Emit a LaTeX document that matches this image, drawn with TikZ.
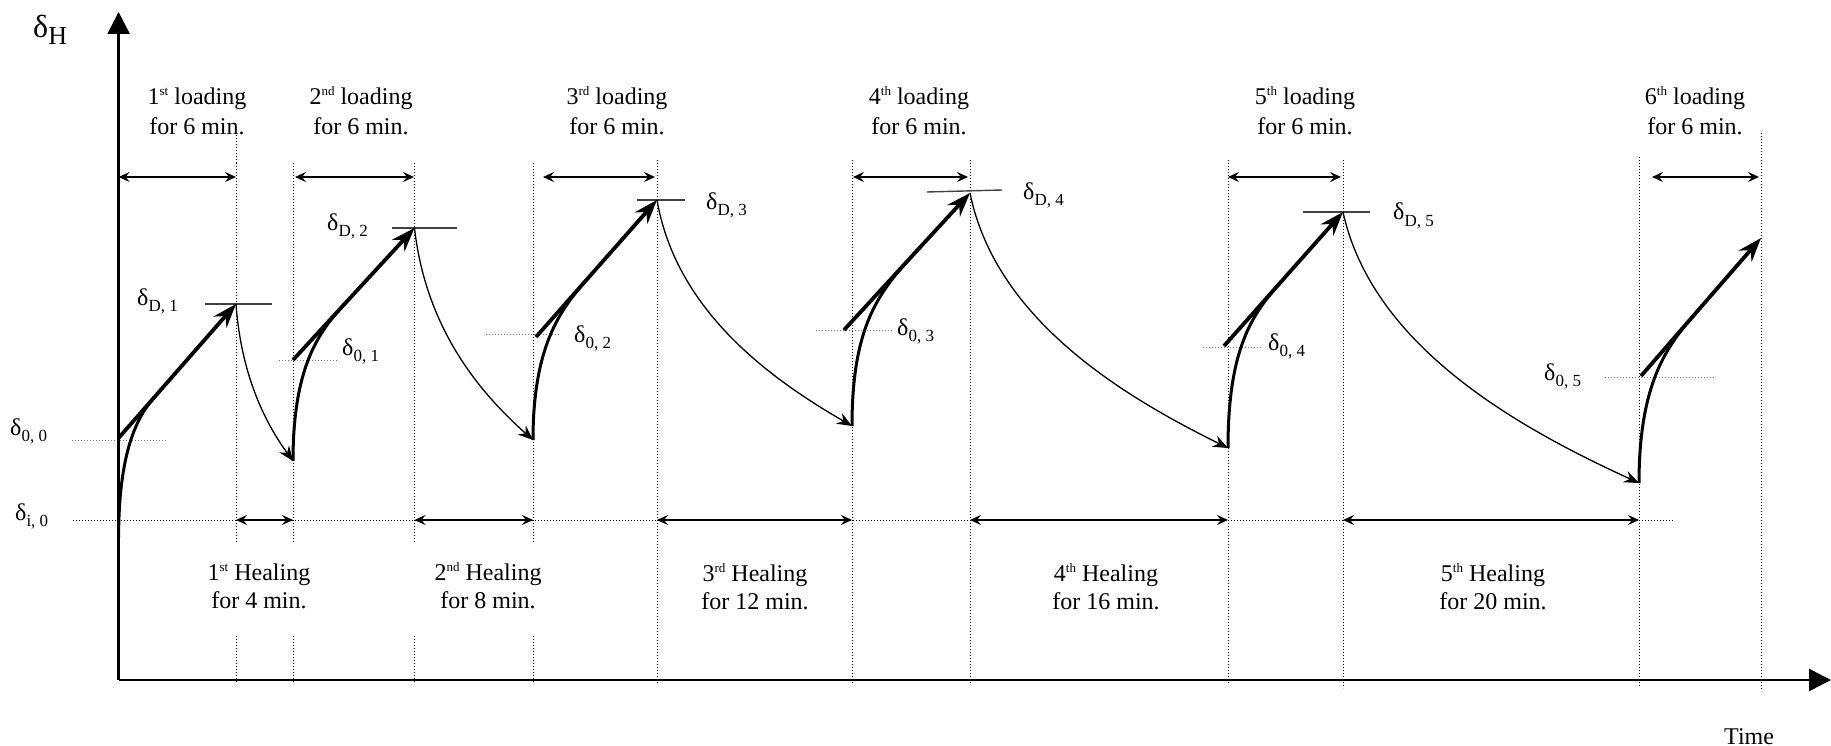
\documentclass[tikz,border=0pt]{standalone}
\usepackage{fontspec}
\setmainfont{Liberation Serif}
\usetikzlibrary{arrows.meta,calc}
\newcommand\sups[1]{\raisebox{9pt}{\fontsize{13}{13}\selectfont #1}}
\newcommand\dlab[1]{δ\raisebox{-6pt}{\fontsize{17}{17}\selectfont #1}}
\begin{document}
\begin{tikzpicture}[x=1pt,y=-1pt,
  axis/.style={line width=2.6pt,-{Triangle[length=22pt,width=22pt]}},
  loadarrow/.style={line width=3.8pt,-{Stealth[length=24pt,width=17pt,inset=8pt]}},
  creep/.style={line width=3pt},
  heal/.style={line width=1.3pt,-{Stealth[length=15pt,width=12pt,inset=5pt]}},
  dbl/.style={line width=1.4pt,{Stealth[length=11pt,width=10pt,inset=4pt]}-{Stealth[length=11pt,width=10pt,inset=4pt]}},
  vdot/.style={line width=1pt,dash pattern=on 1pt off 2pt},
  gdot/.style={black!55,line width=1pt,dash pattern=on 1.2pt off 1.8pt},
  peak/.style={line width=1.4pt,black!75},
  txt/.style={font=\fontsize{24}{29}\selectfont,inner sep=0pt,anchor=base},
  dl/.style={font=\fontsize{24}{29}\selectfont,inner sep=0pt,anchor=base west}]
\useasboundingbox (0,0) rectangle (1831,746);

% guide lines
\foreach \x in {236,293,414.5,533}{
  \draw[vdot] (\x,163) -- (\x,543);
  \draw[vdot] (\x,636) -- (\x,684);}
\draw[vdot] (236,135) -- (236,163);
\foreach \x in {657,852,970,1228}{\draw[vdot] (\x,160) -- (\x,684);}
\draw[vdot] (1343,160) -- (1343,688);
\draw[vdot] (1639,157) -- (1639,686);
\draw[vdot] (1761,133) -- (1761,690);
\draw[vdot] (73,520) -- (1673,520);
\draw[gdot] (72,440) -- (167,440);
\draw[gdot] (279,360) -- (337,360);
\draw[gdot] (486,334) -- (559,334);
\draw[gdot] (816,330) -- (892,330);
\draw[gdot] (1203,347) -- (1261,347);
\draw[gdot] (1605,377) -- (1715,377);

% axes
\coordinate (O) at (118.6,680);
\coordinate (Ytip) at (118.6,12);
\coordinate (Xtip) at (1831,680);
\draw[axis] (O) -- (Ytip);
\draw[axis] (O) -- (Xtip);

% key points
\coordinate (b1) at (118.6,538); \coordinate (a1) at (118.6,438); \coordinate (p1) at (236,304);
\coordinate (b2) at (293,461);   \coordinate (a2) at (293,360);   \coordinate (p2) at (414.5,228);
\coordinate (b3) at (533,440);   \coordinate (a3) at (536,337);   \coordinate (p3) at (657,200);
\coordinate (b4) at (852,426);   \coordinate (a4) at (844,330);   \coordinate (p4) at (970,193);
\coordinate (b5) at (1228,448);  \coordinate (a5) at (1224,346);  \coordinate (p5) at (1343,212);
\coordinate (b6) at (1639,483);  \coordinate (a6) at (1641,376);  \coordinate (p6) at (1761,238);

\coordinate (m1) at ($(a1)!0.30!(p1)$);
\coordinate (m2) at ($(a2)!0.42!(p2)$);
\coordinate (m3) at ($(a3)!0.45!(p3)$);
\coordinate (m4) at ($(a4)!0.65!(p4)$);
\coordinate (m5) at ($(a5)!0.47!(p5)$);
\coordinate (m6) at ($(a6)!0.45!(p6)$);

% peak lines
\draw[peak] (205,304) -- (272,304);
\draw[peak] (392,228) -- (457,228);
\draw[peak] (637,200) -- (685,200);
\draw[peak] (927,192) -- (1002,190);
\draw[peak] (1303,212) -- (1370,212);

% creep curves and loading arrows
\foreach \i in {1,...,6}{
  \draw[creep] (b\i) .. controls ($(b\i)!0.6!(b\i|-m\i)$) and ($(m\i)!0.5!(a\i)$) .. (m\i);
  \draw[loadarrow] (a\i) -- (p\i);}

% healing curves
\draw[heal] (p1) .. controls (241.7,382.5) and (270.2,429.6) .. (b2);
\draw[heal] (p2) .. controls (426.4,334) and (485.6,397.6) .. (b3);
\draw[heal] (p3) .. controls (676.5,313) and (774,380.8) .. (b4);
\draw[heal] (p4) .. controls (995.8,320.5) and (1124.8,397) .. (b5);
\draw[heal] (p5) .. controls (1372.6,347.5) and (1520.6,428.8) .. (b6);

% loading spans
\draw[dbl] (118.6,177) -- (236,177);
\draw[dbl] (295,177) -- (414,177);
\draw[dbl] (543,177) -- (655,177);
\draw[dbl] (853,177) -- (968,177);
\draw[dbl] (1228,177) -- (1341,177);
\draw[dbl] (1652,177) -- (1759,177);
% healing spans
\draw[dbl] (236,520) -- (293,520);
\draw[dbl] (414.5,520) -- (533,520);
\draw[dbl] (657,520) -- (852,520);
\draw[dbl] (970,520) -- (1228,520);
\draw[dbl] (1343,520) -- (1639,520);

% loading labels
\node[txt] (l1a) at (197,105) {1\sups{st} loading};
\node[txt] (l1b) at (197,135) {for 6 min.};
\node[txt] (l2a) at (361,105) {2\sups{nd} loading};
\node[txt] (l2b) at (361,135) {for 6 min.};
\node[txt] (l3a) at (617,105) {3\sups{rd} loading};
\node[txt] (l3b) at (617,135) {for 6 min.};
\node[txt] (l4a) at (919,105) {4\sups{th} loading};
\node[txt] (l4b) at (919,135) {for 6 min.};
\node[txt] (l5a) at (1305,105) {5\sups{th} loading};
\node[txt] (l5b) at (1305,135) {for 6 min.};
\node[txt] (l6a) at (1695,105) {6\sups{th} loading};
\node[txt] (l6b) at (1695,135) {for 6 min.};

% healing labels
\node[txt] (h1a) at (259,580) {1\sups{st} Healing};
\node[txt] (h1b) at (259,608) {for 4 min.};
\node[txt] (h2a) at (488,580) {2\sups{nd} Healing};
\node[txt] (h2b) at (488,608) {for 8 min.};
\node[txt] (h3a) at (755,581) {3\sups{rd} Healing};
\node[txt] (h3b) at (755,609) {for 12 min.};
\node[txt] (h4a) at (1106,581) {4\sups{th} Healing};
\node[txt] (h4b) at (1106,609) {for 16 min.};
\node[txt] (h5a) at (1493,581) {5\sups{th} Healing};
\node[txt] (h5b) at (1493,609) {for 20 min.};

% delta labels
\node[dl] (dD1) at (137,305) {\dlab{D, 1}};
\node[dl] (dD2) at (327,230) {\dlab{D, 2}};
\node[dl] (dD3) at (706,210) {\dlab{D, 3}};
\node[dl] (dD4) at (1023,200) {\dlab{D, 4}};
\node[dl] (dD5) at (1393,220) {\dlab{D, 5}};
\node[dl] (d00) at (10,435) {\dlab{0, 0}};
\node[dl] (d01) at (342,355) {\dlab{0, 1}};
\node[dl] (d02) at (574,342) {\dlab{0, 2}};
\node[dl] (d03) at (897,335) {\dlab{0, 3}};
\node[dl] (d04) at (1268,350) {\dlab{0, 4}};
\node[dl] (d05) at (1544,380) {\dlab{0, 5}};
\node[dl] (di0) at (15,520) {\dlab{i, 0}};
\node[dl,font=\fontsize{32}{36}\selectfont] (dH) at (33,38) {δ\raisebox{-7pt}{\fontsize{26}{26}\selectfont H}};
\node[dl] (time) at (1724,744) {Time};
\end{tikzpicture}
\end{document}
